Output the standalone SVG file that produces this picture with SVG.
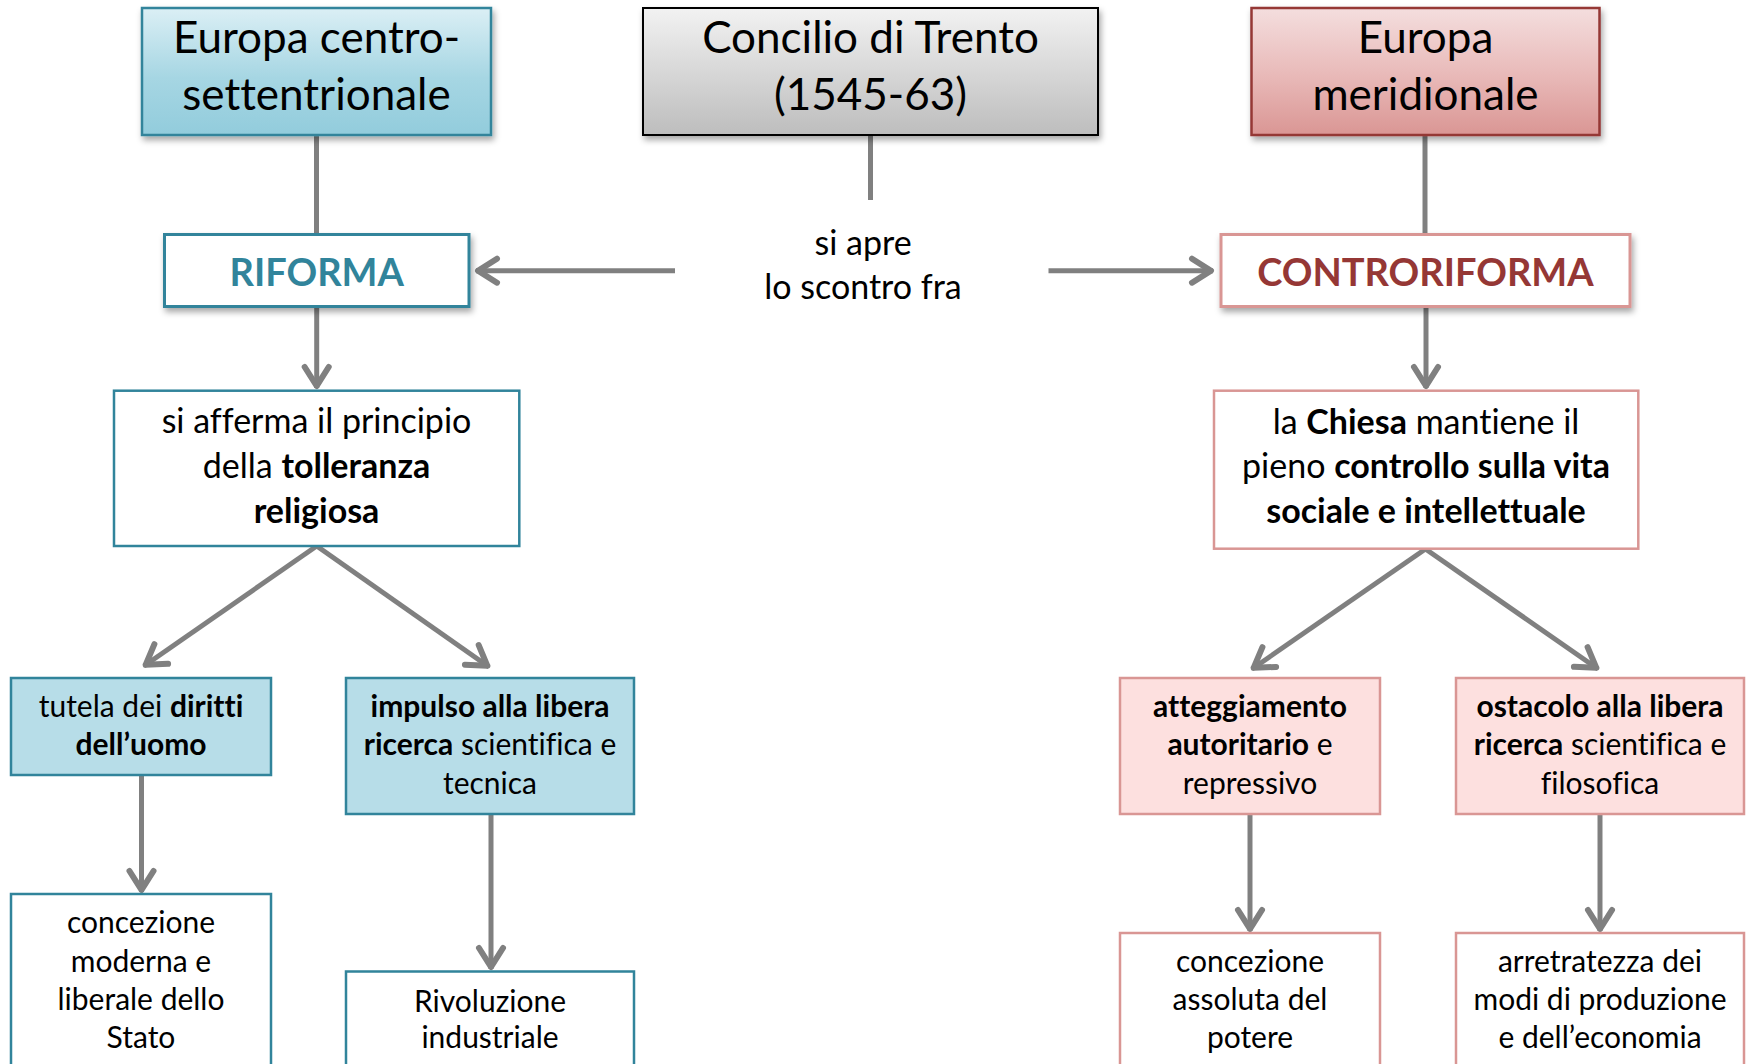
<svg xmlns="http://www.w3.org/2000/svg" width="1752" height="1064" viewBox="0 0 1752 1064">
<defs>
<linearGradient id="gBlue" x1="0" y1="0" x2="0" y2="1"><stop offset="0" stop-color="#DBEFF5"/><stop offset="0.55" stop-color="#A6D6E3"/><stop offset="1" stop-color="#92CCDC"/></linearGradient>
<linearGradient id="gGray" x1="0" y1="0" x2="0" y2="1"><stop offset="0" stop-color="#F2F2F2"/><stop offset="1" stop-color="#BDBDBD"/></linearGradient>
<linearGradient id="gRed" x1="0" y1="0" x2="0" y2="1"><stop offset="0" stop-color="#F4DEDE"/><stop offset="0.55" stop-color="#E8B8B7"/><stop offset="1" stop-color="#DA9694"/></linearGradient>
<filter id="sh" x="-10%" y="-10%" width="125%" height="140%"><feDropShadow dx="2" dy="4" stdDeviation="3" flood-color="#000" flood-opacity="0.35"/></filter>
<marker id="ah" markerUnits="userSpaceOnUse" viewBox="-30 -20 34 40" refX="0" refY="0" markerWidth="34" markerHeight="40" orient="auto" overflow="visible">
<path d="M -21 -12 L -2 0 L -21 12" fill="none" stroke="#808080" stroke-width="6" stroke-linecap="round" stroke-linejoin="round"/>
</marker>
<style>
text{font-family:Lato,"Liberation Sans",sans-serif;fill:#000;text-anchor:middle;font-variant-ligatures:none;font-feature-settings:"liga" 0,"clig" 0,"dlig" 0}
.t1{font-size:44px}
.t2{font-size:38px;font-weight:bold}
.t3{font-size:34px}
.t4{font-size:30px}
.b{font-weight:bold}
.c{fill:none;stroke:#808080;stroke-width:5}
.ca{fill:none;stroke:#808080;stroke-width:5;marker-end:url(#ah)}
</style>
</defs>
<g id="connectors">
<line class="c" x1="316.5" y1="135" x2="316.5" y2="234"/>
<line class="c" x1="870.5" y1="135" x2="870.5" y2="200"/>
<line class="c" x1="1425" y1="135" x2="1425" y2="234"/>
<line class="ca" x1="675" y1="270.7" x2="476" y2="270.7"/>
<line class="ca" x1="1048.5" y1="270.7" x2="1213" y2="270.7"/>
<line class="ca" x1="316.7" y1="307" x2="316.7" y2="388"/>
<line class="ca" x1="1426" y1="307" x2="1426" y2="388"/>
<line class="ca" x1="316.7" y1="546" x2="144" y2="666"/>
<line class="ca" x1="316.7" y1="546" x2="489" y2="667"/>
<line class="ca" x1="1425.5" y1="549" x2="1252" y2="669"/>
<line class="ca" x1="1425.5" y1="549" x2="1598" y2="669"/>
<line class="ca" x1="141.5" y1="775" x2="141.5" y2="892"/>
<line class="ca" x1="491" y1="814" x2="491" y2="969"/>
<line class="ca" x1="1250" y1="814" x2="1250" y2="931"/>
<line class="ca" x1="1600" y1="814" x2="1600" y2="931"/>
</g>
<g id="n-europa-centro">
<rect x="142" y="8" width="349" height="127" fill="url(#gBlue)" stroke="#31849B" stroke-width="2.5" filter="url(#sh)"/>
<text class="t1" x="316.5" y="52.7">Europa centro-</text>
<text class="t1" x="316.5" y="110">settentrionale</text>
</g>
<g id="n-concilio">
<rect x="643" y="8" width="455" height="127" fill="url(#gGray)" stroke="#000" stroke-width="2" filter="url(#sh)"/>
<text class="t1" x="870.5" y="53.3">Concilio di Trento</text>
<text class="t1" x="870.5" y="110">(1545-63)</text>
</g>
<g id="n-europa-meridionale">
<rect x="1251.5" y="8" width="348" height="127" fill="url(#gRed)" stroke="#953735" stroke-width="2.5" filter="url(#sh)"/>
<text class="t1" x="1425.5" y="53">Europa</text>
<text class="t1" x="1425.5" y="110">meridionale</text>
</g>
<g id="n-si-apre">
<text class="t3" x="863" y="255">si apre</text>
<text class="t3" x="863" y="298.5">lo scontro fra</text>
</g>
<g id="n-riforma">
<rect x="164.5" y="234.5" width="304.5" height="72" fill="#fff" stroke="#31849B" stroke-width="3" filter="url(#sh)"/>
<text class="t2" x="316.7" y="286" style="fill:#31849B">RIFORMA</text>
</g>
<g id="n-controriforma">
<rect x="1221" y="234.5" width="409" height="72" fill="#fff" stroke="#D99694" stroke-width="3" filter="url(#sh)"/>
<text class="t2" x="1425.4" y="286" style="fill:#953735">CONTRORIFORMA</text>
</g>
<g id="n-tolleranza">
<rect x="114" y="390.7" width="405.3" height="155.3" fill="#fff" stroke="#31849B" stroke-width="2.5"/>
<text class="t3" x="316.5" y="433.3">si afferma il principio</text>
<text class="t3" x="316.5" y="478.3">della <tspan class="b">tolleranza</tspan></text>
<text class="t3 b" x="316.5" y="522.7">religiosa</text>
</g>
<g id="n-chiesa">
<rect x="1214" y="390.7" width="424.3" height="158" fill="#fff" stroke="#D99694" stroke-width="2.5"/>
<text class="t3" x="1426" y="434">la <tspan class="b">Chiesa</tspan> mantiene il</text>
<text class="t3" x="1426" y="478.3">pieno <tspan class="b">controllo sulla vita</tspan></text>
<text class="t3 b" x="1426" y="522.7">sociale e intellettuale</text>
</g>
<g id="n-tutela">
<rect x="11" y="678" width="260" height="97" fill="#B7DDE8" stroke="#31849B" stroke-width="2.5"/>
<text class="t4" x="141" y="717.3">tutela dei <tspan class="b">diritti</tspan></text>
<text class="t4 b" x="141" y="755">dell’uomo</text>
</g>
<g id="n-impulso">
<rect x="346" y="678" width="288" height="136" fill="#B7DDE8" stroke="#31849B" stroke-width="2.5"/>
<text class="t4 b" x="490" y="717.3">impulso alla libera</text>
<text class="t4" x="490" y="755"><tspan class="b">ricerca</tspan> scientifica e</text>
<text class="t4" x="490" y="794">tecnica</text>
</g>
<g id="n-atteggiamento">
<rect x="1120" y="678" width="260" height="136" fill="#FDE0DF" stroke="#D99694" stroke-width="2.5"/>
<text class="t4 b" x="1250" y="717.3">atteggiamento</text>
<text class="t4" x="1250" y="755"><tspan class="b">autoritario</tspan> e</text>
<text class="t4" x="1250" y="794">repressivo</text>
</g>
<g id="n-ostacolo">
<rect x="1456" y="678" width="288" height="136" fill="#FDE0DF" stroke="#D99694" stroke-width="2.5"/>
<text class="t4 b" x="1600" y="717.3">ostacolo alla libera</text>
<text class="t4" x="1600" y="755"><tspan class="b">ricerca</tspan> scientifica e</text>
<text class="t4" x="1600" y="794">filosofica</text>
</g>
<g id="n-stato">
<rect x="11" y="894" width="260" height="180" fill="#fff" stroke="#31849B" stroke-width="2.5"/>
<text class="t4" x="141" y="933.3">concezione</text>
<text class="t4" x="141" y="971.7">moderna e</text>
<text class="t4" x="141" y="1010">liberale dello</text>
<text class="t4" x="141" y="1048.3">Stato</text>
</g>
<g id="n-rivoluzione">
<rect x="346" y="971.5" width="288" height="110" fill="#fff" stroke="#31849B" stroke-width="2.5"/>
<text class="t4" x="490" y="1011.7">Rivoluzione</text>
<text class="t4" x="490" y="1048.3">industriale</text>
</g>
<g id="n-potere">
<rect x="1120" y="933" width="260" height="140" fill="#fff" stroke="#D99694" stroke-width="2.5"/>
<text class="t4" x="1250" y="971.7">concezione</text>
<text class="t4" x="1250" y="1010">assoluta del</text>
<text class="t4" x="1250" y="1048.3">potere</text>
</g>
<g id="n-arretratezza">
<rect x="1456" y="933" width="288" height="140" fill="#fff" stroke="#D99694" stroke-width="2.5"/>
<text class="t4" x="1600" y="971.7">arretratezza dei</text>
<text class="t4" x="1600" y="1010">modi di produzione</text>
<text class="t4" x="1600" y="1048.3">e dell’economia</text>
</g>
</svg>
